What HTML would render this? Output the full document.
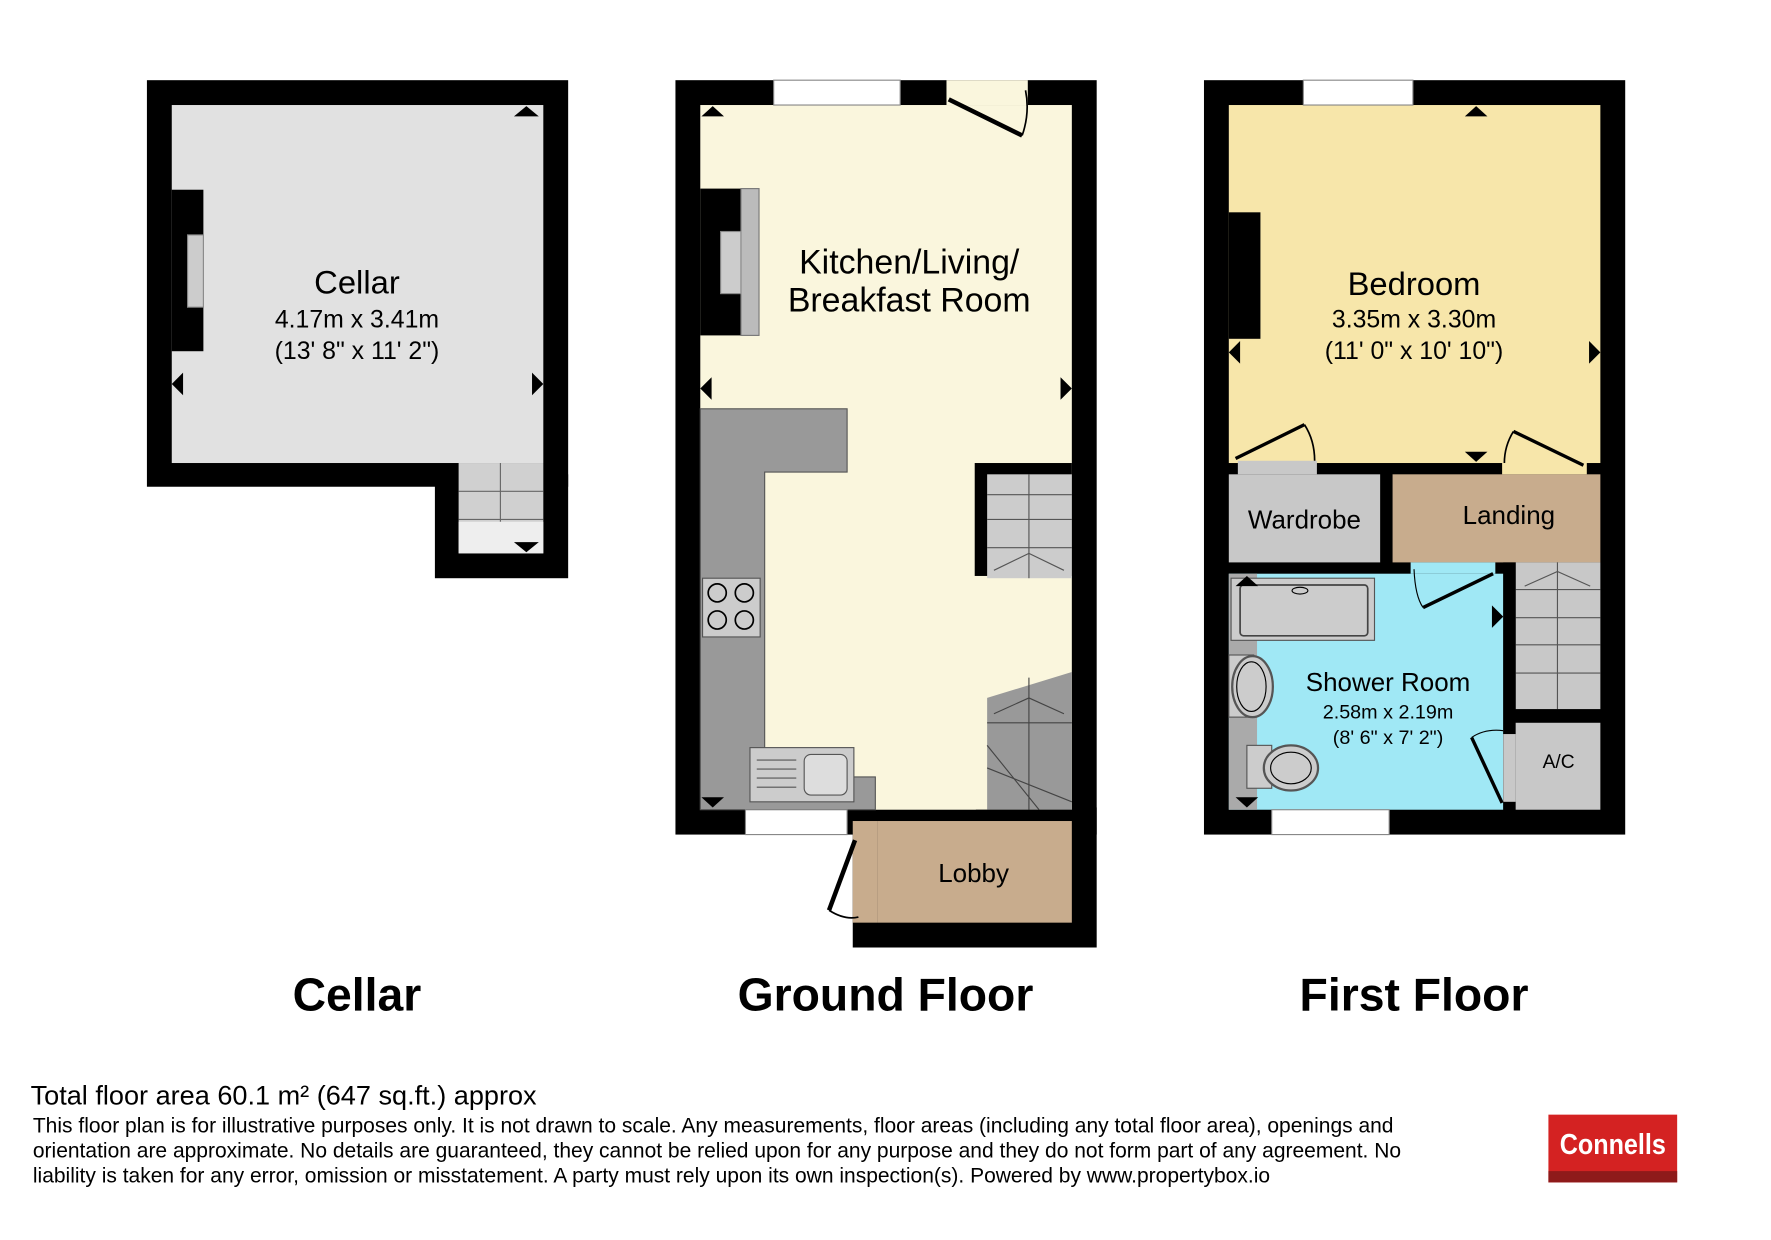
<!DOCTYPE html>
<html><head><meta charset="utf-8"><style>html,body{margin:0;padding:0;background:#fff}svg{display:block}</style></head><body>
<svg width="1771" height="1240" viewBox="0 0 1568 1098" xmlns="http://www.w3.org/2000/svg" font-family="Liberation Sans, Arial, sans-serif">
<!-- CELLAR -->
<rect x="130" y="71" width="373" height="360" fill="#000"/>
<rect x="385" y="420" width="118" height="92" fill="#000"/>
<rect x="152" y="93" width="329" height="317" fill="#e1e1e1"/>
<rect x="406" y="410" width="75" height="80" fill="#d0d0d0"/>
<g stroke="#666" stroke-width="1"><line x1="406" y1="435" x2="481" y2="435"/><line x1="406" y1="460" x2="481" y2="460"/><line x1="443" y1="410" x2="443" y2="480"/></g>
<rect x="406" y="462" width="75" height="28" fill="#eee"/>
<rect x="152" y="168" width="28" height="143" fill="#000"/>
<rect x="166" y="208" width="14" height="64" fill="#ccc" stroke="#888"/>
<polygon points="455,103 477,103 466,94" fill="#000"/>
<polygon points="152,340 162,330 162,350" fill="#000"/>
<polygon points="481,340 471,330 471,350" fill="#000"/>
<polygon points="455,480 477,480 466,489" fill="#000"/>
<text x="316" y="260" font-size="29" text-anchor="middle">Cellar</text>
<text x="316" y="290" font-size="22" text-anchor="middle">4.17m x 3.41m</text>
<text x="316" y="318" font-size="22" text-anchor="middle">(13' 8" x 11' 2")</text>

<!-- GROUND -->
<rect x="598" y="71" width="373" height="668" fill="#000"/>
<rect x="755" y="715" width="216" height="124" fill="#000"/>
<rect x="620" y="93" width="329" height="624" fill="#faf6dd"/>
<rect x="685" y="71" width="112" height="22" fill="#fff" stroke="#888"/>
<rect x="838" y="71" width="72" height="22" fill="#faf6dd"/>
<line x1="840" y1="88" x2="905" y2="120" stroke="#000" stroke-width="4"/>
<path d="M905 120 Q912 100 908 80" fill="none" stroke="#000" stroke-width="1.5"/>
<rect x="620" y="167" width="36" height="130" fill="#000"/>
<rect x="656" y="167" width="16" height="130" fill="#bbb" stroke="#777"/>
<rect x="638" y="205" width="18" height="55" fill="#ccc" stroke="#888"/>
<path d="M620 362 H750 V418 H677 V688 H775 V717 H620Z" fill="#999" stroke="#555"/>
<rect x="622" y="512" width="51" height="52" fill="#ccc" stroke="#555"/>
<g fill="none" stroke="#000" stroke-width="1.5"><circle cx="635" cy="525" r="8"/><circle cx="659" cy="525" r="8"/><circle cx="635" cy="549" r="8"/><circle cx="659" cy="549" r="8"/></g>
<rect x="664" y="662" width="92" height="48" fill="#ccc" stroke="#555"/>
<rect x="712" y="668" width="38" height="36" rx="6" fill="#ddd" stroke="#555"/>
<g stroke="#555"><line x1="670" y1="673" x2="705" y2="673"/><line x1="670" y1="681" x2="705" y2="681"/><line x1="670" y1="689" x2="705" y2="689"/><line x1="670" y1="697" x2="705" y2="697"/></g>
<rect x="863" y="410" width="86" height="100" fill="#000"/>
<rect x="874" y="420" width="75" height="92" fill="#ccc"/>
<g stroke="#555"><line x1="874" y1="438" x2="949" y2="438"/><line x1="874" y1="460" x2="949" y2="460"/><line x1="874" y1="485" x2="949" y2="485"/><line x1="911" y1="420" x2="911" y2="512"/><polyline points="880,505 911,490 942,505" fill="none"/></g>
<polygon points="874,618 949,595 949,717 874,717" fill="#999"/>
<g stroke="#444" fill="none"><line x1="874" y1="640" x2="949" y2="640"/><line x1="874" y1="680" x2="949" y2="710"/><line x1="874" y1="660" x2="920" y2="717"/><polyline points="880,632 911,618 942,632"/><line x1="911" y1="600" x2="911" y2="717"/></g>
<rect x="864" y="717" width="85" height="10" fill="#000"/>
<rect x="777" y="727" width="172" height="90" fill="#c8ac8d"/>
<rect x="755" y="727" width="22" height="90" fill="#c8ac8d"/>
<rect x="660" y="717" width="90" height="22" fill="#fff" stroke="#888"/>
<line x1="757" y1="744" x2="734" y2="806" stroke="#000" stroke-width="4"/>
<path d="M734 806 Q748 815 760 812" fill="none" stroke="#000" stroke-width="1.5"/>
<polygon points="621,103 641,103 631,94" fill="#000"/>
<polygon points="620,344 630,334 630,354" fill="#000"/>
<polygon points="949,344 939,334 939,354" fill="#000"/>
<polygon points="621,706 641,706 631,715" fill="#000"/>
<text x="805" y="242" font-size="30" text-anchor="middle">Kitchen/Living/</text>
<text x="805" y="276" font-size="30" text-anchor="middle">Breakfast Room</text>
<text x="862" y="781" font-size="23" text-anchor="middle">Lobby</text>

<!-- FIRST -->
<rect x="1066" y="71" width="373" height="668" fill="#000"/>
<rect x="1088" y="93" width="329" height="317" fill="#f7e6aa"/>
<rect x="1154" y="71" width="97" height="22" fill="#fff" stroke="#888"/>
<rect x="1088" y="188" width="28" height="112" fill="#000"/>
<rect x="1088" y="420" width="134" height="78" fill="#c8c8c8"/>
<rect x="1233" y="420" width="184" height="78" fill="#c8ac8d"/>
<rect x="1096" y="408" width="70" height="12" fill="#c8c8c8"/>
<rect x="1330" y="408" width="75" height="12" fill="#f7e6aa"/>
<line x1="1094" y1="406" x2="1155" y2="376" stroke="#000" stroke-width="3"/>
<path d="M1155 376 Q1164 390 1164 408" fill="none" stroke="#000" stroke-width="1.5"/>
<line x1="1402" y1="412" x2="1340" y2="382" stroke="#000" stroke-width="3"/>
<path d="M1340 382 Q1332 395 1332 410" fill="none" stroke="#000" stroke-width="1.5"/>
<rect x="1088" y="508" width="243" height="209" fill="#a0e8f5"/>
<rect x="1088" y="508" width="25" height="209" fill="#aaa"/>
<rect x="1342" y="498" width="75" height="130" fill="#c8c8c8"/>
<g stroke="#555"><line x1="1342" y1="522" x2="1417" y2="522"/><line x1="1342" y1="547" x2="1417" y2="547"/><line x1="1342" y1="571" x2="1417" y2="571"/><line x1="1342" y1="596" x2="1417" y2="596"/><line x1="1379" y1="498" x2="1379" y2="628"/><polyline points="1350,519 1379,506 1408,519" fill="none"/></g>
<rect x="1331" y="498" width="11" height="219" fill="#000"/>
<rect x="1342" y="628" width="75" height="12" fill="#000"/>
<rect x="1342" y="640" width="75" height="77" fill="#c8c8c8"/>
<rect x="1331" y="650" width="11" height="60" fill="#c8c8c8"/>
<line x1="1303" y1="653" x2="1330" y2="711" stroke="#000" stroke-width="3"/>
<path d="M1303 653 Q1315 645 1331 647" fill="none" stroke="#000" stroke-width="1"/>
<rect x="1249" y="498" width="75" height="10" fill="#a0e8f5"/>
<line x1="1260" y1="538" x2="1322" y2="508" stroke="#000" stroke-width="3"/>
<path d="M1252 504 Q1253 528 1260 538" fill="none" stroke="#000" stroke-width="1"/>
<rect x="1090" y="512" width="127" height="55" fill="#ccc" stroke="#555"/>
<rect x="1098" y="518" width="113" height="45" rx="3" fill="#ccc" stroke="#444" stroke-width="1.5"/>
<ellipse cx="1151" cy="523" rx="7" ry="3" fill="none" stroke="#000"/>
<rect x="1088" y="580" width="22" height="55" fill="#ccc" stroke="#555"/>
<ellipse cx="1109" cy="608" rx="18" ry="27" fill="#ccc" stroke="#555" stroke-width="2"/>
<ellipse cx="1108" cy="608" rx="13" ry="22" fill="none" stroke="#000"/>
<rect x="1104" y="660" width="22" height="38" fill="#ccc" stroke="#555"/>
<ellipse cx="1143" cy="680" rx="24" ry="20" fill="#ccc" stroke="#555" stroke-width="2"/>
<ellipse cx="1143" cy="680" rx="18" ry="14" fill="none" stroke="#000"/>
<rect x="1126" y="717" width="104" height="22" fill="#fff" stroke="#888"/>
<polygon points="1297,103 1317,103 1307,94" fill="#000"/>
<polygon points="1088,312 1098,302 1098,322" fill="#000"/>
<polygon points="1417,312 1407,302 1407,322" fill="#000"/>
<polygon points="1297,400 1317,400 1307,409" fill="#000"/>
<polygon points="1094,519 1114,519 1104,510" fill="#000"/>
<polygon points="1331,546 1321,536 1321,556" fill="#000"/>
<polygon points="1094,706 1114,706 1104,715" fill="#000"/>
<text x="1252" y="261" font-size="29" text-anchor="middle">Bedroom</text>
<text x="1252" y="290" font-size="22" text-anchor="middle">3.35m x 3.30m</text>
<text x="1252" y="318" font-size="22" text-anchor="middle">(11' 0" x 10' 10")</text>
<text x="1155" y="468" font-size="23" text-anchor="middle">Wardrobe</text>
<text x="1336" y="464" font-size="23" text-anchor="middle">Landing</text>
<text x="1229" y="612" font-size="23" text-anchor="middle">Shower Room</text>
<text x="1229" y="636" font-size="17.5" text-anchor="middle">2.58m x 2.19m</text>
<text x="1229" y="659" font-size="17.5" text-anchor="middle">(8' 6" x 7' 2")</text>
<text x="1380" y="680" font-size="17" text-anchor="middle">A/C</text>

<g font-size="41" font-weight="bold" text-anchor="middle">
<text x="316" y="895">Cellar</text>
<text x="784" y="895">Ground Floor</text>
<text x="1252" y="895">First Floor</text>
</g>
<text x="27" y="978" font-size="24">Total floor area 60.1 m² (647 sq.ft.) approx</text>
<g font-size="18.6">
<text x="29" y="1003">This floor plan is for illustrative purposes only. It is not drawn to scale. Any measurements, floor areas (including any total floor area), openings and</text>
<text x="29" y="1025">orientation are approximate. No details are guaranteed, they cannot be relied upon for any purpose and they do not form part of any agreement. No</text>
<text x="29" y="1047">liability is taken for any error, omission or misstatement. A party must rely upon its own inspection(s). Powered by www.propertybox.io</text>
</g>
<rect x="1371" y="987" width="114" height="60" fill="#d42222"/>
<rect x="1371" y="1037" width="114" height="10" fill="#8e1a1a"/>
<text x="1428" y="1022" font-size="25" font-weight="bold" fill="#fff" text-anchor="middle" textLength="94" lengthAdjust="spacingAndGlyphs">Connells</text>
</svg>
</body></html>
